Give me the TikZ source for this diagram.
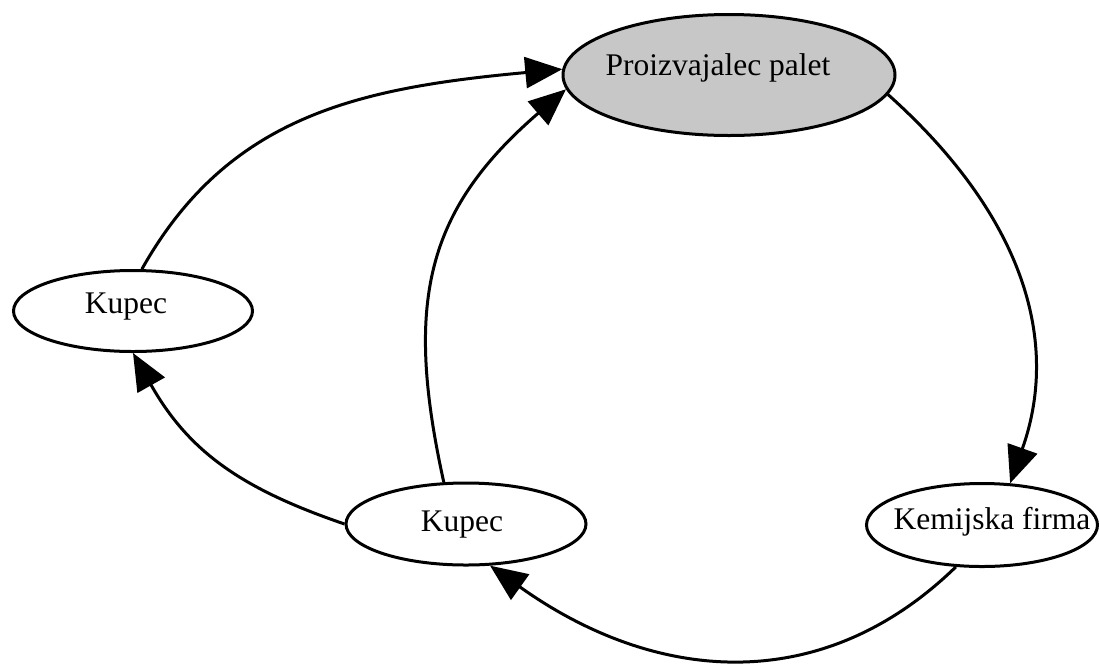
\documentclass[tikz,border=0pt]{standalone}
\usepackage{fontspec}
\setmainfont{Liberation Serif}
\usetikzlibrary{shapes.geometric,arrows.meta}
\definecolor{pgray}{RGB}{199,199,199}
\begin{document}
\begin{tikzpicture}[x=1pt,y=1pt,
  ell/.style={draw=black,line width=3pt,ellipse,inner sep=0pt,fill=white},
  lbl/.style={anchor=base,inner sep=0pt,font=\fontsize{31.5}{36}\selectfont},
  flow/.style={line width=3pt,-{Triangle[length=37pt,width=31pt]}}]
\useasboundingbox (0,0) rectangle (1100,-665);
\fill[white] (0,0) rectangle (1100,-665);

\node[ell,fill=pgray,minimum width=332pt,minimum height=121pt] (pp) at (729,-75) {};
\node[ell,minimum width=239pt,minimum height=81pt] (k1) at (133,-311) {};
\node[ell,minimum width=240pt,minimum height=82pt] (mk) at (466,-524) {};
\node[ell,minimum width=231pt,minimum height=83pt] (kf) at (982,-525) {};

\node[lbl] (ppt) at (718,-75) {Proizvajalec palet};
\node[lbl] (k1t) at (126,-313) {Kupec};
\node[lbl] (mkt) at (462,-531) {Kupec};
\node[lbl] (kft) at (992,-529) {Kemijska firma};

\draw[flow] (k1.78) .. controls (228,-116) and (358,-88) .. (pp.178);
\draw[flow] (mk.118) .. controls (404,-302) and (426,-210) .. (pp.185);
\draw[flow] (pp.-7) .. controls (1016,-209) and (1063,-334) .. (kf.56);
\draw[flow] (kf.238) .. controls (822,-697) and (656,-684) .. (mk.300);
\draw[flow] (mk.180) .. controls (242,-489) and (189,-452) .. (k1.270);
\end{tikzpicture}
\end{document}
